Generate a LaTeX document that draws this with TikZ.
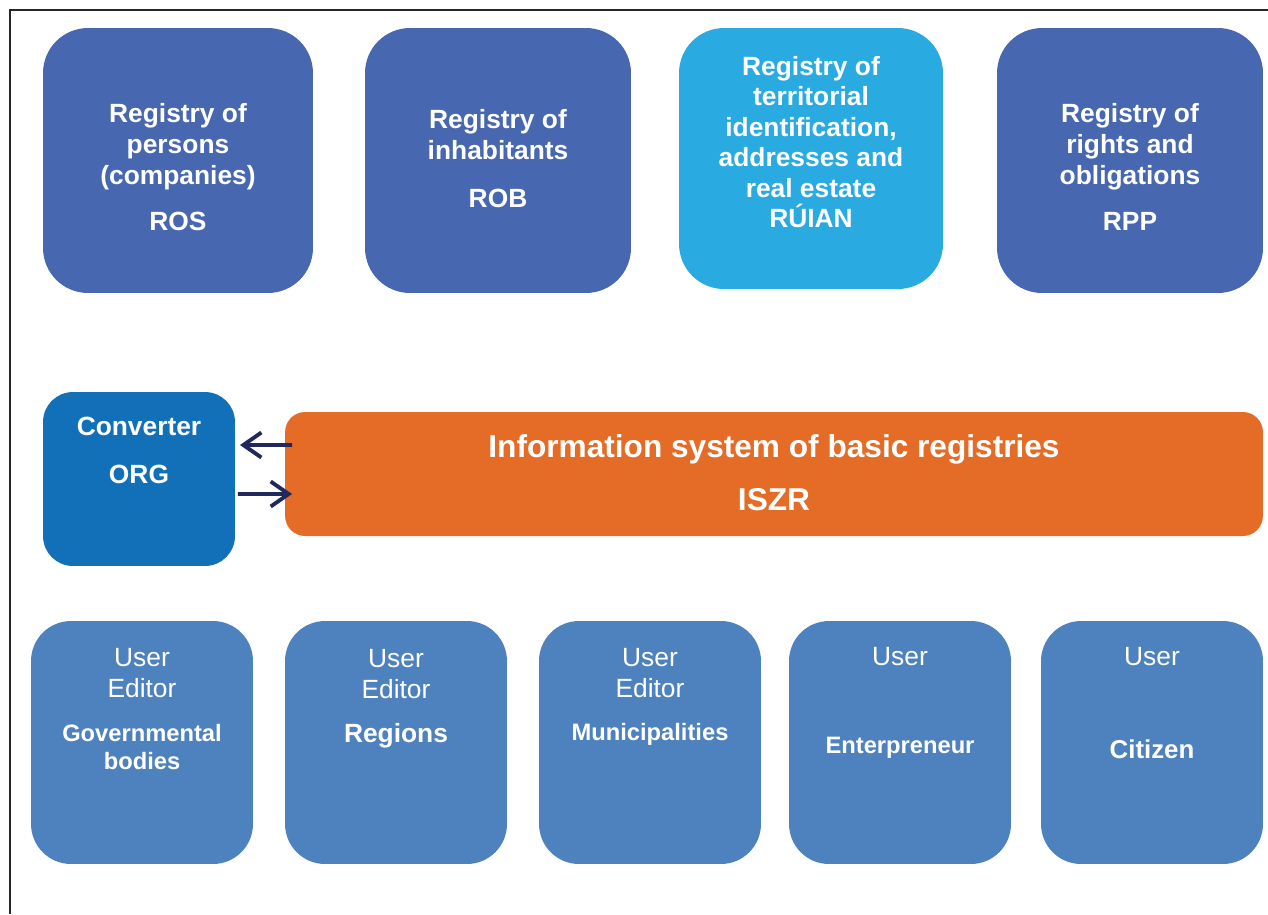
\documentclass[tikz,border=0pt]{standalone}
\usepackage{fontspec}
\setmainfont{Liberation Sans}
\usetikzlibrary{arrows.meta}
\definecolor{regblue}{RGB}{71,103,176}
\definecolor{ruianblue}{RGB}{41,171,226}
\definecolor{orgblue}{RGB}{18,112,184}
\definecolor{iszrorange}{RGB}{228,108,38}
\definecolor{userblue}{RGB}{78,130,190}
\definecolor{arrownavy}{RGB}{33,40,92}

\begin{document}
\begin{tikzpicture}[x=0.02cm, y=-0.02cm,
		reg/.style={fill=regblue, rounded corners=0.9cm, minimum width=5.4cm, minimum height=5.3cm, inner sep=0pt, outer sep=0pt},
		usr/.style={fill=userblue, rounded corners=0.8cm, minimum width=4.44cm, minimum height=4.86cm, inner sep=0pt, outer sep=0pt},
		lbl/.style={text=white, font=\bfseries\fontsize{15}{17.6}\selectfont, align=center, inner sep=0pt},
		lblthin/.style={text=white, font=\fontsize{15}{17.6}\selectfont, align=center, inner sep=0pt},
		lblsmall/.style={text=white, font=\bfseries\fontsize{13.5}{15.9}\selectfont, align=center, inner sep=0pt},
		flow/.style={draw=arrownavy, line width=2.2pt, -{Straight Barb[length=0.36cm, width=0.5cm]}}]
			%%%%% START %%%%%
			\useasboundingbox (0,0) rectangle (1268,914);
			\draw[line width=1.2pt, black!85] (10,914) -- (10,10) -- (1268,10);
			
			% registries
			\node[reg] (ros) at (178,160.5) {};
			\node[lbl] (rostxt) at (178,147) {Registry of\\persons\\(companies)};
			\node[lbl] (rosabbr) at (178,221) {ROS};
			
			\node[reg, minimum width=5.32cm] (rob) at (498,160.5) {};
			\node[lbl] (robtxt) at (498,135) {Registry of\\inhabitants};
			\node[lbl] (robabbr) at (498,198) {ROB};
			
			\node[reg, fill=ruianblue, minimum width=5.28cm, minimum height=5.22cm] (ruian) at (811,158.5) {};
			\node[lbl, font=\bfseries\fontsize{15}{17.3}\selectfont] (ruiantxt) at (811,142) {Registry of\\territorial\\identification,\\addresses and\\real estate\\RÚIAN};
			
			\node[reg, minimum width=5.32cm] (rpp) at (1130,160.5) {};
			\node[lbl] (rpptxt) at (1130,147) {Registry of\\rights and\\obligations};
			\node[lbl] (rppabbr) at (1130,221) {RPP};
			
			% converter and ISZR
			\node[fill=orgblue, rounded corners=0.6cm, minimum width=3.84cm, minimum height=3.48cm, inner sep=0pt, outer sep=0pt] (org) at (139,479) {};
			\node[lbl] (orgtxt) at (139,426) {Converter};
			\node[lbl] (orgabbr) at (139,474) {ORG};
			
			\node[fill=iszrorange, rounded corners=0.4cm, minimum width=19.56cm, minimum height=2.48cm, inner sep=0pt, outer sep=0pt] (iszr) at (774,474) {};
			\node[lbl, font=\bfseries\fontsize{18}{21}\selectfont] (iszrtxt) at (774,449) {Information system of basic registries};
			\node[lbl, font=\bfseries\fontsize{18}{21}\selectfont] (iszrabbr) at (774,500) {ISZR};
			
			\draw[flow] ([xshift=0.14cm, yshift=0.58cm]iszr.west) -- ([xshift=0.1cm, yshift=0.68cm]org.east);
			\draw[flow] ([xshift=0.06cm, yshift=-0.3cm]org.east) -- ([xshift=0.14cm, yshift=-0.4cm]iszr.west);
			
			% users
			\node[usr] (gov) at (142,742.5) {};
			\node[lblthin] (govrole) at (142,673) {User\\Editor};
			\node[lblsmall] (govtxt) at (142,747) {Governmental\\bodies};
			
			\node[usr] (regions) at (396,742.5) {};
			\node[lblthin] (regionsrole) at (396,674) {User\\Editor};
			\node[lbl] (regionstxt) at (396,736) {Regions};
			
			\node[usr] (muni) at (650,742.5) {};
			\node[lblthin] (munirole) at (650,673) {User\\Editor};
			\node[lblsmall] (munitxt) at (650,734) {Municipalities};
			
			\node[usr] (entr) at (900,742.5) {};
			\node[lblthin] (entrrole) at (900,657) {User};
			\node[lblsmall] (entrtxt) at (900,748) {Enterpreneur};
			
			\node[usr] (citizen) at (1152,742.5) {};
			\node[lblthin] (citizenrole) at (1152,657) {User};
			\node[lbl, font=\bfseries\fontsize{14.7}{17}\selectfont] (citizentxt) at (1152,749) {Citizen};
			%%%%% END %%%%%
\end{tikzpicture}
\end{document}
